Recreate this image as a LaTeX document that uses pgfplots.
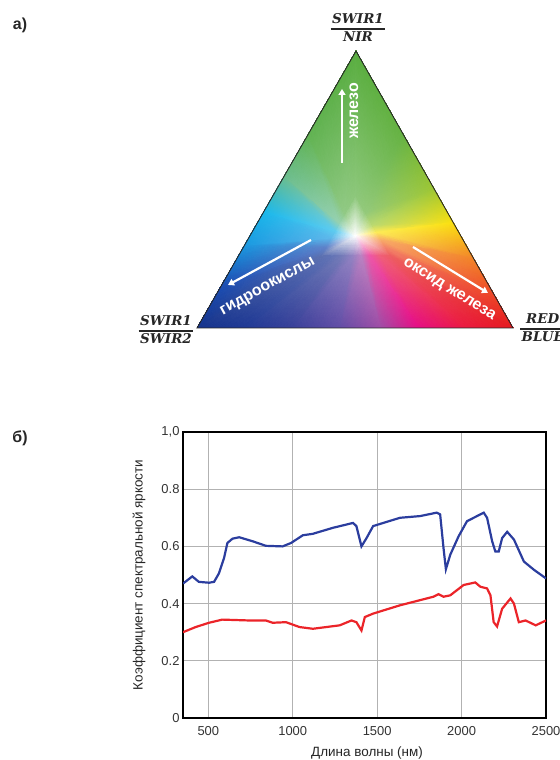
\documentclass[border=0pt]{standalone}
\usepackage{fontspec}
\setmainfont{Liberation Sans}
\newfontfamily\fracfont{DejaVu Serif}
\usepackage{pgfplots}
\pgfplotsset{compat=1.18}
\usepgfplotslibrary{patchplots}
\usetikzlibrary{arrows.meta}
\newcommand\fr[2]{{\fracfont\bfseries\itshape\fontsize{13.5}{14}\selectfont\color{black!85}%
 \setlength{\arrayrulewidth}{1.2bp}\renewcommand\arraystretch{1.25}%
 \begin{tabular}{@{\hspace{1.5bp}}c@{\hspace{1.5bp}}}#1\\\hline #2\end{tabular}}}
\begin{document}
\begin{tikzpicture}[x=1bp,y=1bp]
\useasboundingbox (0,0) rectangle (560,760);
% ---------- a) ternary triangle ----------
\begin{axis}[at={(0bp,0bp)}, anchor=south west, scale only axis,
  width=560bp, height=760bp, xmin=0, xmax=560, ymin=0, ymax=760,
  hide axis, clip=false]
\addplot[patch, shader=interp, mesh/color input=explicit,
  point meta=explicit symbolic] table[meta=c] {
x y c
355.3 524.3 rgb=1,1,1
355.5 564.9 rgb=0.55,0.78,0.48
365.8 546.7 rgb=0.58,0.79,0.48
355.5 564.9 rgb=0.55,0.78,0.48
356.0 709.0 rgb=0.35,0.68,0.25
403.1 625.9 rgb=0.40,0.70,0.26
355.5 564.9 rgb=0.55,0.78,0.48
403.1 625.9 rgb=0.40,0.70,0.26
365.8 546.7 rgb=0.58,0.79,0.48
355.3 524.3 rgb=1,1,1
365.8 546.7 rgb=0.58,0.79,0.48
372.7 534.5 rgb=0.73,0.85,0.44
365.8 546.7 rgb=0.58,0.79,0.48
403.1 625.9 rgb=0.40,0.70,0.26
434.5 570.5 rgb=0.62,0.78,0.20
365.8 546.7 rgb=0.58,0.79,0.48
434.5 570.5 rgb=0.62,0.78,0.20
372.7 534.5 rgb=0.73,0.85,0.44
355.3 524.3 rgb=1,1,1
372.7 534.5 rgb=0.73,0.85,0.44
376.9 527.2 rgb=0.99,0.92,0.34
372.7 534.5 rgb=0.73,0.85,0.44
434.5 570.5 rgb=0.62,0.78,0.20
453.3 537.3 rgb=0.98,0.88,0.06
372.7 534.5 rgb=0.73,0.85,0.44
453.3 537.3 rgb=0.98,0.88,0.06
376.9 527.2 rgb=0.99,0.92,0.34
355.3 524.3 rgb=1,1,1
376.9 527.2 rgb=0.99,0.92,0.34
381.4 519.2 rgb=0.97,0.66,0.41
376.9 527.2 rgb=0.99,0.92,0.34
453.3 537.3 rgb=0.98,0.88,0.06
473.8 501.3 rgb=0.95,0.52,0.15
376.9 527.2 rgb=0.99,0.92,0.34
473.8 501.3 rgb=0.95,0.52,0.15
381.4 519.2 rgb=0.97,0.66,0.41
355.3 524.3 rgb=1,1,1
381.4 519.2 rgb=0.97,0.66,0.41
385.9 511.3 rgb=0.95,0.50,0.41
381.4 519.2 rgb=0.97,0.66,0.41
473.8 501.3 rgb=0.95,0.52,0.15
494.2 465.2 rgb=0.93,0.28,0.15
381.4 519.2 rgb=0.97,0.66,0.41
494.2 465.2 rgb=0.93,0.28,0.15
385.9 511.3 rgb=0.95,0.50,0.41
355.3 524.3 rgb=1,1,1
385.9 511.3 rgb=0.95,0.50,0.41
390.0 504.0 rgb=0.93,0.37,0.38
385.9 511.3 rgb=0.95,0.50,0.41
494.2 465.2 rgb=0.93,0.28,0.15
513.0 432.0 rgb=0.90,0.10,0.12
385.9 511.3 rgb=0.95,0.50,0.41
513.0 432.0 rgb=0.90,0.10,0.12
390.0 504.0 rgb=0.93,0.37,0.38
355.3 524.3 rgb=1,1,1
390.0 504.0 rgb=0.93,0.37,0.38
379.6 504.0 rgb=0.94,0.37,0.48
390.0 504.0 rgb=0.93,0.37,0.38
513.0 432.0 rgb=0.90,0.10,0.12
465.6 432.0 rgb=0.92,0.10,0.25
390.0 504.0 rgb=0.93,0.37,0.38
465.6 432.0 rgb=0.92,0.10,0.25
379.6 504.0 rgb=0.94,0.37,0.48
355.3 524.3 rgb=1,1,1
379.6 504.0 rgb=0.94,0.37,0.48
369.1 504.0 rgb=0.93,0.34,0.66
379.6 504.0 rgb=0.94,0.37,0.48
465.6 432.0 rgb=0.92,0.10,0.25
418.2 432.0 rgb=0.90,0.05,0.52
379.6 504.0 rgb=0.94,0.37,0.48
418.2 432.0 rgb=0.90,0.05,0.52
369.1 504.0 rgb=0.93,0.34,0.66
355.3 524.3 rgb=1,1,1
369.1 504.0 rgb=0.93,0.34,0.66
360.8 504.0 rgb=0.73,0.51,0.76
369.1 504.0 rgb=0.93,0.34,0.66
418.2 432.0 rgb=0.90,0.05,0.52
380.3 432.0 rgb=0.62,0.30,0.65
369.1 504.0 rgb=0.93,0.34,0.66
380.3 432.0 rgb=0.62,0.30,0.65
360.8 504.0 rgb=0.73,0.51,0.76
355.3 524.3 rgb=1,1,1
360.8 504.0 rgb=0.73,0.51,0.76
351.8 504.0 rgb=0.57,0.51,0.76
360.8 504.0 rgb=0.73,0.51,0.76
380.3 432.0 rgb=0.62,0.30,0.65
339.2 432.0 rgb=0.38,0.30,0.65
360.8 504.0 rgb=0.73,0.51,0.76
339.2 432.0 rgb=0.38,0.30,0.65
351.8 504.0 rgb=0.57,0.51,0.76
355.3 524.3 rgb=1,1,1
351.8 504.0 rgb=0.57,0.51,0.76
341.3 504.0 rgb=0.45,0.48,0.72
351.8 504.0 rgb=0.57,0.51,0.76
339.2 432.0 rgb=0.38,0.30,0.65
291.8 432.0 rgb=0.22,0.25,0.60
351.8 504.0 rgb=0.57,0.51,0.76
291.8 432.0 rgb=0.22,0.25,0.60
341.3 504.0 rgb=0.45,0.48,0.72
355.3 524.3 rgb=1,1,1
341.3 504.0 rgb=0.45,0.48,0.72
330.9 504.0 rgb=0.38,0.45,0.71
341.3 504.0 rgb=0.45,0.48,0.72
291.8 432.0 rgb=0.22,0.25,0.60
244.4 432.0 rgb=0.12,0.22,0.58
341.3 504.0 rgb=0.45,0.48,0.72
244.4 432.0 rgb=0.12,0.22,0.58
330.9 504.0 rgb=0.38,0.45,0.71
355.3 524.3 rgb=1,1,1
330.9 504.0 rgb=0.38,0.45,0.71
320.5 504.0 rgb=0.36,0.44,0.69
330.9 504.0 rgb=0.38,0.45,0.71
244.4 432.0 rgb=0.12,0.22,0.58
197.0 432.0 rgb=0.08,0.20,0.55
330.9 504.0 rgb=0.38,0.45,0.71
197.0 432.0 rgb=0.08,0.20,0.55
320.5 504.0 rgb=0.36,0.44,0.69
355.3 524.3 rgb=1,1,1
320.5 504.0 rgb=0.36,0.44,0.69
325.7 513.1 rgb=0.37,0.51,0.79
320.5 504.0 rgb=0.36,0.44,0.69
197.0 432.0 rgb=0.08,0.20,0.55
220.9 473.6 rgb=0.10,0.30,0.70
320.5 504.0 rgb=0.36,0.44,0.69
220.9 473.6 rgb=0.10,0.30,0.70
325.7 513.1 rgb=0.37,0.51,0.79
355.3 524.3 rgb=1,1,1
325.7 513.1 rgb=0.37,0.51,0.79
331.0 522.3 rgb=0.37,0.72,0.92
325.7 513.1 rgb=0.37,0.51,0.79
220.9 473.6 rgb=0.10,0.30,0.70
244.7 515.1 rgb=0.10,0.60,0.88
325.7 513.1 rgb=0.37,0.51,0.79
244.7 515.1 rgb=0.10,0.60,0.88
331.0 522.3 rgb=0.37,0.72,0.92
355.3 524.3 rgb=1,1,1
331.0 522.3 rgb=0.37,0.72,0.92
335.2 529.6 rgb=0.37,0.80,0.94
331.0 522.3 rgb=0.37,0.72,0.92
244.7 515.1 rgb=0.10,0.60,0.88
263.8 548.3 rgb=0.10,0.72,0.92
331.0 522.3 rgb=0.37,0.72,0.92
263.8 548.3 rgb=0.10,0.72,0.92
335.2 529.6 rgb=0.37,0.80,0.94
355.3 524.3 rgb=1,1,1
335.2 529.6 rgb=0.37,0.80,0.94
339.7 537.5 rgb=0.59,0.82,0.69
335.2 529.6 rgb=0.37,0.80,0.94
263.8 548.3 rgb=0.10,0.72,0.92
284.5 584.4 rgb=0.42,0.74,0.55
335.2 529.6 rgb=0.37,0.80,0.94
284.5 584.4 rgb=0.42,0.74,0.55
339.7 537.5 rgb=0.59,0.82,0.69
355.3 524.3 rgb=1,1,1
339.7 537.5 rgb=0.59,0.82,0.69
345.0 546.6 rgb=0.57,0.79,0.52
339.7 537.5 rgb=0.59,0.82,0.69
284.5 584.4 rgb=0.42,0.74,0.55
308.3 625.9 rgb=0.38,0.70,0.32
339.7 537.5 rgb=0.59,0.82,0.69
308.3 625.9 rgb=0.38,0.70,0.32
345.0 546.6 rgb=0.57,0.79,0.52
355.3 524.3 rgb=1,1,1
345.0 546.6 rgb=0.57,0.79,0.52
355.5 564.9 rgb=0.55,0.78,0.48
345.0 546.6 rgb=0.57,0.79,0.52
308.3 625.9 rgb=0.38,0.70,0.32
356.0 709.0 rgb=0.35,0.68,0.25
345.0 546.6 rgb=0.57,0.79,0.52
356.0 709.0 rgb=0.35,0.68,0.25
355.5 564.9 rgb=0.55,0.78,0.48
};
\addplot[black!85, line width=0.9bp] coordinates {(356,709) (197,432) (513,432)} -- cycle;
% white arrows
\addplot[white, line width=2.2bp, -{Triangle[length=6bp,width=7bp]}] coordinates {(342,597) (342,671)};
\addplot[white, line width=2.2bp, -{Triangle[length=6bp,width=7bp]}] coordinates {(311,520) (228,475)};
\addplot[white, line width=2.2bp, -{Triangle[length=6bp,width=7bp]}] coordinates {(413,513) (488,467)};
\node[white, rotate=90, font=\bfseries\fontsize{16}{16}\selectfont] at (axis cs:354,649) {железо};
\node[white, rotate=29, font=\bfseries\fontsize{16}{16}\selectfont] at (axis cs:268,473) {гидроокислы};
\node[white, rotate=-32, font=\bfseries\fontsize{16}{16}\selectfont] at (axis cs:449,470) {оксид железа};
% vertex labels
\node at (axis cs:358,731) {\fr{SWIR1}{NIR}};
\node at (axis cs:166,429) {\fr{SWIR1}{SWIR2}};
\node[anchor=west, inner sep=0pt] at (axis cs:520,431) {\fr{RED}{BLUE}};
% panel letters
\node[font=\bfseries\fontsize{16}{16}\selectfont, text=black!85] at (axis cs:20,735) {а)};
\node[font=\bfseries\fontsize{16}{16}\selectfont, text=black!85] at (axis cs:20,322) {б)};
\end{axis}
% ---------- b) spectral curves ----------
\begin{axis}[at={(183bp,42bp)}, anchor=south west, scale only axis,
  width=363bp, height=286bp,
  xmin=350, xmax=2500, ymin=0, ymax=1,
  xtick={500,1000,1500,2000,2500}, xticklabels={500,1000,1500,2000,2500},
  ytick={0,0.2,0.4,0.6,0.8,1}, yticklabels={0,0.2,0.4,0.6,0.8,{1,0}},
  grid=major, grid style={black!30, line width=0.7bp},
  major tick length=0pt,
  axis line style={black, line width=1.5bp},
  tick label style={font=\fontsize{13}{13}\selectfont, text=black!80},
  xticklabel style={yshift=-5bp},
  xlabel={Длина волны (нм)},
  ylabel={Коэффициент спектральной яркости},
  label style={font=\fontsize{13.5}{14}\selectfont, text=black!85},
  xlabel style={at={(axis description cs:0.507,-0.1224)}, anchor=center},
  ylabel style={at={(axis description cs:-0.121,0.5)}, anchor=center}]
\addplot[color={rgb,1:red,0.17;green,0.24;blue,0.62}, line width=2.2bp] coordinates {
(350,0.47) (405,0.495) (444,0.476) (504,0.473) (534,0.476) (563,0.506) (593,0.559)
(613,0.612) (643,0.627) (683,0.632) (762,0.618) (841,0.602) (940,0.600) (990,0.612)
(1060,0.639) (1119,0.644) (1238,0.665) (1357,0.682) (1377,0.671) (1407,0.600)
(1437,0.629) (1476,0.671) (1536,0.682) (1635,0.700) (1754,0.706) (1853,0.718)
(1873,0.712) (1893,0.594) (1907,0.520) (1933,0.571) (1982,0.635) (2032,0.688)
(2131,0.718) (2151,0.700) (2181,0.618) (2200,0.582) (2220,0.582) (2240,0.629)
(2270,0.651) (2310,0.624) (2369,0.547) (2429,0.518) (2500,0.488)};
\addplot[color={rgb,1:red,0.92;green,0.14;blue,0.16}, line width=2.2bp] coordinates {
(350,0.300) (425,0.318) (504,0.333) (583,0.344) (742,0.341) (841,0.341) (881,0.333)
(960,0.335) (1040,0.318) (1119,0.312) (1278,0.324) (1348,0.341) (1377,0.335)
(1407,0.306) (1427,0.353) (1476,0.365) (1635,0.394) (1833,0.424) (1863,0.433)
(1893,0.424) (1933,0.429) (2012,0.465) (2081,0.474) (2111,0.459) (2151,0.453)
(2171,0.429) (2190,0.335) (2210,0.320) (2240,0.382) (2290,0.418) (2310,0.400)
(2339,0.335) (2379,0.341) (2439,0.324) (2500,0.341)};
\end{axis}
\end{tikzpicture}
\end{document}
